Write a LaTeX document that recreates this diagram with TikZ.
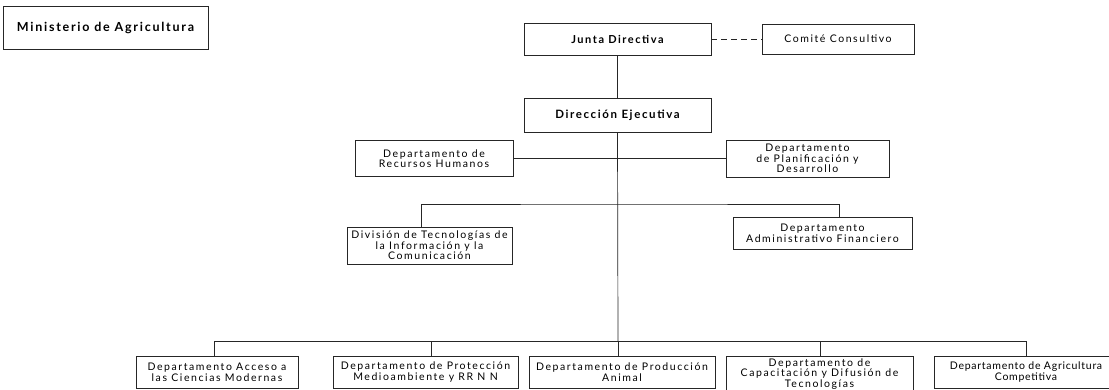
\documentclass[tikz,border=0pt]{standalone}
\usepackage{fontspec}
\setmainfont{Lato}[LetterSpace=14]
\usetikzlibrary{positioning}

\begin{document}
\begin{tikzpicture}[x=1pt, y=-1pt,
	box/.style={draw=black!85, line width=0.8pt, inner sep=1pt, align=center,
		font=\fontsize{10.5}{10.6}\selectfont\addfontfeature{LetterSpace=15}},
	wire/.style={draw=black!85, line width=0.7pt}]

\def\width{1109}
\def\height{390}

\useasboundingbox [fill=white] (0,0) rectangle (\width,\height);

% TOP
\node [box, minimum width=205, minimum height=43, font=\fontsize{12.5}{13}\bfseries] (mini) at (105.5,27.5) {Ministerio de Agricultura};
\node [box, minimum width=187, minimum height=32, font=\fontsize{11}{12}\bfseries] (junta) at (617.5,39) {Junta Directiva};
\node [box, minimum width=152, minimum height=30] (comite) at (838,39) {Comité Consultivo};
\node [box, minimum width=187, minimum height=34, font=\fontsize{11.5}{12}\bfseries] (direc) at (617.5,115) {Dirección Ejecutiva};

% STAFF
\node [box, minimum width=158, minimum height=36] (rrhh) at (434,158.5) {Departamento de\\Recursos Humanos};
\node [box, minimum width=163, minimum height=37] (plan) at (807.5,158.5) {Departamento\\de Planificación y\\Desarrollo};
\node [box, minimum width=165, minimum height=37] (ntic) at (429.5,245.5) {División de Tecnologías de\\la Información y la\\Comunicación};
\node [box, minimum width=179, minimum height=32] (admin) at (822.5,233) {Departamento\\Administrativo Financiero};

% DEPARTMENTS
\node [box, minimum width=162, minimum height=32] (acc) at (217,372) {Departamento Acceso a\\las Ciencias Modernas};
\node [box, minimum width=185, minimum height=32] (prot) at (425.5,372) {Departamento de Protección\\Medioambiente y RR N N};
\node [box, minimum width=186, minimum height=32] (prod) at (622,372) {Departamento de Producción\\Animal};
\node [box, minimum width=187, minimum height=36] (capa) at (819.5,374) {Departamento de\\Capacitación y Difusión de\\Tecnologías};
\node [box, minimum width=184, minimum height=32, font=\fontsize{10.5}{10.6}\selectfont\addfontfeature{LetterSpace=7}] (agri) at (1026,372) {Departamento de Agricultura\\Competitiva};

% LINES
\coordinate (bus1) at (618,204);
\coordinate (bus2) at (618,341);
\draw [wire, dash pattern=on 6pt off 4pt] (junta.east) -- (comite.west);
\draw [wire] (junta.south) -- (direc.north);
\draw [wire] (direc.south) -- (bus2);
\draw [wire] (rrhh.east) -- (plan.west);
\draw [wire] ([xshift=-8.5pt]ntic.north) |- (bus1) -| ([xshift=16.5pt]admin.north);
\draw [wire] ([xshift=-3pt]acc.north |- bus2) -- (agri.north |- bus2);
\foreach \n/\dx in {acc/-3, prot/5.5, prod/-4, capa/0.5, agri/0}
	\draw [wire] ([xshift=\dx pt]\n.north) -- ([xshift=\dx pt]\n.north |- bus2);

\end{tikzpicture}
\end{document}
